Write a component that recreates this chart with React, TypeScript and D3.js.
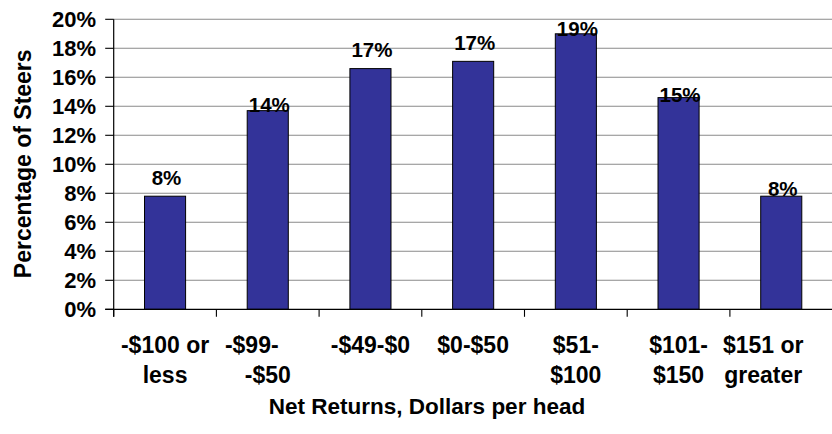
import React from "react";
import * as d3 from "d3";

const categories: string[][] = [
  ["-$100 or", "less"],
  ["-$99-", "-$50"],
  ["-$49-$0"],
  ["$0-$50"],
  ["$51-", "$100"],
  ["$101-", "$150"],
  ["$151 or", "greater"],
];
const percentValues: number[] = [7.8, 13.7, 16.6, 17.1, 19.0, 14.6, 7.8];
const yTicks: number[] = [0, 2, 4, 6, 8, 10, 12, 14, 16, 18, 20];
const yAxisTitle = "Percentage of Steers";
const xAxisTitle = "Net Returns, Dollars per head";

// styling / layout constants
const W = 832;
const H = 434;
const plotLeft = 113.7;
const plotRight = 832.6;
const plotTop = 19.3;
const plotBottom = 309.3;
const barColor = "#333399";
const gridColor = "#8a8a8a";
const font = "'Liberation Sans', Arial, Helvetica, sans-serif";
// Excel label quirks (px lift above bar top)
const labelLift = [11, -1, 12, 11, -2, -4, 0];
// horizontal tweaks for category label lines
const catLineShift: number[][] = [[0, 0], [-16, 0], [0], [0], [0, 0], [0, 0], [-18, -18]];

export default function App() {
  const keys = categories.map((c) => c.join(" "));
  const x = d3
    .scaleBand<string>()
    .domain(keys)
    .range([plotLeft, plotRight])
    .paddingInner(0.6)
    .paddingOuter(0.3);
  const y = d3.scaleLinear().domain([0, 20]).range([plotBottom, plotTop]);
  const fmt = d3.format(".0%");
  const step = x.step();
  const boundaries = d3.range(keys.length + 1).map((i) => plotLeft + i * step);

  return (
    <svg
      width={W}
      height={H}
      style={{ position: "absolute", left: 0, top: 0, background: "#fff" }}
      fontFamily={font}
      fontWeight="bold"
    >
      <rect x={0} y={0} width={W} height={H} fill="#fff" />
      {/* gridlines */}
      {yTicks.filter((t) => t > 0).map((t) => (
        <line key={"g" + t} x1={plotLeft} x2={plotRight} y1={y(t)} y2={y(t)} stroke={gridColor} strokeWidth={1.1} />
      ))}
      {/* bars */}
      {percentValues.map((v, i) => (
        <rect
          key={"b" + i}
          x={x(keys[i])!}
          y={y(v)}
          width={x.bandwidth()}
          height={y(0) - y(v)}
          fill={barColor}
          stroke="#000"
          strokeWidth={1}
        />
      ))}
      {/* axes */}
      <line x1={plotLeft} x2={plotLeft} y1={plotTop} y2={plotBottom + 7.5} stroke="#000" strokeWidth={1.2} />
      <line x1={plotLeft - 8.5} x2={plotRight} y1={plotBottom} y2={plotBottom} stroke="#000" strokeWidth={1.2} />
      {yTicks.map((t) => (
        <g key={"yt" + t}>
          <line x1={plotLeft - 8.5} x2={plotLeft} y1={y(t)} y2={y(t)} stroke="#000" strokeWidth={1.1} />
          <text x={96} y={y(t)} dy="0.36em" textAnchor="end" fontSize={22} fill="#000">
            {t + "%"}
          </text>
        </g>
      ))}
      {boundaries.map((b, i) => (
        <line key={"xt" + i} x1={b} x2={b} y1={plotBottom} y2={plotBottom + 7.5} stroke="#000" strokeWidth={1.1} />
      ))}
      {/* data labels */}
      {percentValues.map((v, i) => (
        <text
          key={"l" + i}
          x={x(keys[i])! + x.bandwidth() / 2 + 1.5}
          y={y(v) - labelLift[i]}
          textAnchor="middle"
          fontSize={20.5}
          fill="#000"
        >
          {fmt(v / 100)}
        </text>
      ))}
      {/* category labels */}
      {categories.map((lines, i) => (
        <text key={"c" + i} textAnchor="middle" fontSize={23} fill="#000">
          {lines.map((ln, j) => (
            <tspan
              key={j}
              x={x(keys[i])! + x.bandwidth() / 2 + catLineShift[i][j]}
              y={353 + j * 30}
            >
              {ln}
            </tspan>
          ))}
        </text>
      ))}
      {/* axis titles */}
      <text x={427} y={414} textAnchor="middle" fontSize={22.5} fill="#000">
        {xAxisTitle}
      </text>
      <text
        transform={`translate(31, ${(plotTop + plotBottom) / 2 - 0.5}) rotate(-90)`}
        textAnchor="middle"
        fontSize={23}
        fill="#000"
      >
        {yAxisTitle}
      </text>
    </svg>
  );
}
